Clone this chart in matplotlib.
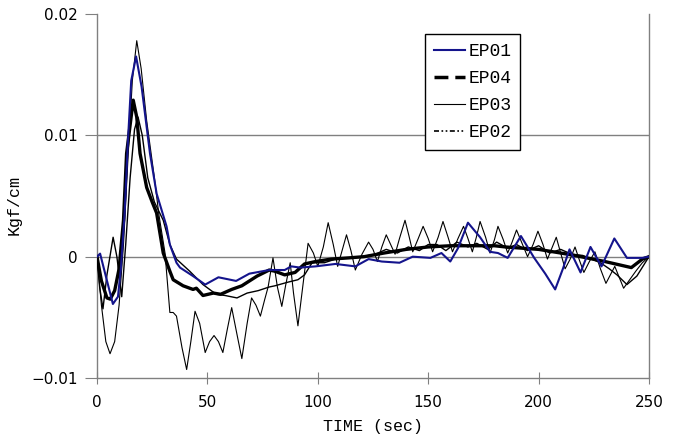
import numpy as np
import matplotlib
matplotlib.use("Agg")
from matplotlib import pyplot as plt
from matplotlib.lines import Line2D

# values, in units of 0.001 Kgf/cm
t_ep01 = [0, 1.4, 4.4, 7.2, 9.5, 10.8, 12.5, 14, 15.5, 17.7, 20.2, 24, 27, 31.5, 33,
          36, 37.6, 43.5, 49, 55, 63, 69, 78, 85, 88, 92, 99, 108, 117, 123, 129,
          137, 143, 151, 156, 160, 163.5, 168, 173.5, 178, 181.6, 186, 192, 198,
          203, 207.5, 211, 214, 219, 223.5, 228.5, 234.3, 240, 247, 250]
v_ep01 = [0, 0.25, -1.9, -3.9, -3.3, -1.0, 3.5, 9.5, 14.5, 16.5, 14.0, 8.5, 5.2, 2.5, 1.0,
          -0.5, -0.9, -1.6, -2.3, -1.7, -2.0, -1.4, -1.1, -1.1, -0.8, -0.9, -0.8, -0.6, -0.8, -0.2, -0.4,
          -0.5, 0.0, -0.1, 0.3, -0.4, 0.7, 2.8, 1.6, 0.4, 0.3, -0.1, 1.7, -0.1,
          -1.4, -2.7, -1.0, 0.6, -1.3, 0.8, -0.8, 1.5, -0.1, -0.1, 0]

t_ep04 = [0, 2, 4.5, 6, 8, 10, 12, 13.4, 16.4, 18, 19.5, 22.5, 25, 27, 30, 33, 34.5,
          39, 43.5, 45, 48, 52.7, 56, 61, 65.6, 72.5, 78, 80.6, 85, 89.7, 94, 99,
          106, 114, 121, 130, 140, 150, 160, 170, 180, 185, 200, 215, 230, 242, 247, 250]
v_ep04 = [0, -2.0, -3.4, -3.5, -2.8, -1.0, 3.0, 8.5, 12.9, 11.5, 8.5, 5.7, 4.5, 3.6, 0.3, -1.2, -1.9,
          -2.4, -2.7, -2.6, -3.2, -3.0, -3.1, -2.7, -2.4, -1.6, -1.1, -1.2, -1.5, -1.3, -0.6, -0.4,
          -0.2, -0.1, 0.0, 0.3, 0.6, 0.8, 0.9, 0.9, 0.9, 0.8, 0.6, 0.15, -0.4, -0.9, -0.2, 0]

t_ep03 = [0, 2, 4, 5.9, 8, 10, 12, 14, 16, 18, 20, 22.5, 26, 28, 30.8, 33, 34.5, 36,
          38.5, 40.6, 42.5, 44.4, 46.5, 49, 51, 53, 55, 57, 59, 61, 63.5, 65.6, 68, 70,
          72, 74, 76, 77.5, 79.7, 81.7, 83.7, 85.5, 87.5, 89, 91, 93.5, 95.6, 98, 100,
          102.5, 104.7, 107, 109, 111, 113, 115, 117, 120, 123, 125, 127, 129, 131, 133,
          135, 137, 139.5, 141.3, 143, 145.5, 147.7, 150, 152, 154.5, 156.7, 159, 161,
          163.5, 166, 168, 170, 171.8, 173.5, 176, 178, 180, 181.6, 184, 186, 188, 190,
          192.5, 195, 197.5, 199.7, 202, 204, 206, 208, 210, 212, 214.3, 216.5, 218.5,
          220.5, 223, 225.5, 228, 230.5, 234.5, 238.5, 244, 247, 250]
v_ep03 = [0, -4.0, -7.0, -8.0, -7.0, -4.0, 1.0, 8.0, 14.5, 17.8, 15.5, 11.2, 6.5, 3.5, 0.3, -4.6, -4.6, -4.9,
          -7.5, -9.3, -7.0, -4.5, -5.5, -7.9, -7.0, -6.5, -7.0, -7.9, -6.0, -4.2, -6.5, -8.4, -5.5, -3.4,
          -4.0, -4.9, -3.5, -2.5, -0.1, -2.5, -4.1, -2.3, -0.5, -3.0, -5.7, -2.0, 1.1, 0.3, -0.8,
          0.8, 2.8, 1.0, -0.8, 0.5, 1.8, 0.5, -1.1, 0.2, 1.2, 0.6, -0.4, 0.8, 1.8, 1.0,
          0.2, 1.5, 3.0, 1.7, 0.4, 1.5, 2.5, 1.5, 0.4, 1.6, 2.9, 1.6, 0.4,
          1.5, 2.5, 1.5, 0.4, 1.6, 2.9, 1.6, 0.3, 1.4, 2.5, 1.4, 0.3, 1.2, 2.2,
          1.1, 0.0, 1.0, 2.1, 1.0, -0.2, 0.7, 1.6, 0.3, -1.0, -0.2, 0.8, -0.3,
          -1.3, -0.4, 0.4, -1.0, -2.2, -0.8, -2.6, -1.2, -0.5, 0]

t_ep02 = [0, 1.2, 2.7, 4.5, 7.3, 9, 11.2, 13, 15, 17, 18.6, 20.5, 23, 26, 30, 33, 36,
          42, 48, 54, 58, 63.4, 68, 73, 78, 80.6, 86.5, 91, 94, 97.4, 103, 108, 114,
          120, 126, 131, 136, 141, 146, 150, 154, 158, 163, 168, 172, 177, 181, 186,
          190, 195, 200, 205, 210, 215, 220, 224, 228, 232, 235.5, 240, 244.5, 250]
v_ep02 = [0, -2.5, -4.3, -1.5, 1.6, 0.0, -3.3, 1.0, 6.5, 10.5, 11.5, 10.0, 6.5, 4.5, 3.0, 1.0, -0.2,
          -1.2, -2.3, -3.1, -3.2, -3.4, -3.0, -2.8, -2.5, -2.4, -2.1, -1.9, -1.5, -0.5, -0.5, -0.2, -0.1,
          0.0, 0.2, 0.6, 0.3, 0.8, 0.5, 1.0, 1.0, 0.5, 1.2, 0.8, 1.1, 0.6, 1.2, 0.7,
          1.0, 0.5, 0.9, 0.3, 0.6, 0.2, 0.1, -0.2, -0.5, -1.0, -1.5, -2.3, -1.6, 0]

series_names = ["EP01", "EP04", "EP03", "EP02"]
blue = "#14148c"
mono = "Liberation Mono"

fig = plt.figure(figsize=(6.76, 4.48), dpi=100)
ax = fig.add_axes([97 / 676, 1 - 378 / 448, 552 / 676, 364 / 448])

grid_c = "#808080"
for yv in [0, 0.01]:
    ax.axhline(yv, color=grid_c, lw=1, zorder=1)

ax.plot(t_ep03, np.array(v_ep03) * 1e-3, color="black", lw=0.8, zorder=3)
ax.plot(t_ep02, np.array(v_ep02) * 1e-3, color="black", lw=1.0, zorder=3)
ax.plot(t_ep04, np.array(v_ep04) * 1e-3, color="black", lw=2.4, zorder=4)
ax.plot(t_ep01, np.array(v_ep01) * 1e-3, color=blue, lw=1.5, zorder=5)

ax.set_xlim(0, 250)
ax.set_ylim(-0.01, 0.02)
ax.set_xticks([0, 50, 100, 150, 200, 250])
ax.set_yticks([-0.01, 0, 0.01, 0.02])
ax.set_yticklabels(["\u22120.01", "0", "0.01", "0.02"])

ax.spines["top"].set_visible(False)
for s in ["left", "bottom", "right"]:
    ax.spines[s].set_color(grid_c)
    ax.spines[s].set_linewidth(1)

ax.tick_params(axis="x", direction="inout", length=9, color=grid_c, labelsize=11, pad=8)
ax.tick_params(axis="y", direction="out", length=9, color=grid_c, labelsize=11, pad=5)

ax.set_xlabel("TIME (sec)", family=mono, fontsize=12, labelpad=6)
ax.set_ylabel("Kgf/cm", family=mono, fontsize=12)
ax.yaxis.set_label_coords(-0.136, 0.475)

handles = [
    Line2D([], [], color=blue, lw=1.5),
    Line2D([], [], color="black", lw=2.5, dashes=(4, 2)),
    Line2D([], [], color="black", lw=0.8),
    Line2D([], [], color="black", lw=1.2, dashes=(3, 1.5, 1, 1.5, 1, 1.5)),
]
leg = ax.legend(handles, series_names, loc="upper left",
                bbox_to_anchor=(0.594, 0.945), borderaxespad=0,
                prop={"family": mono, "size": 13}, frameon=True, fancybox=False,
                edgecolor="black", framealpha=1, handlelength=1.7,
                handletextpad=0.2, labelspacing=0.55, borderpad=0.5)
leg.get_frame().set_linewidth(1)
leg.set_zorder(10)

fig.savefig("out.png", dpi=100)
